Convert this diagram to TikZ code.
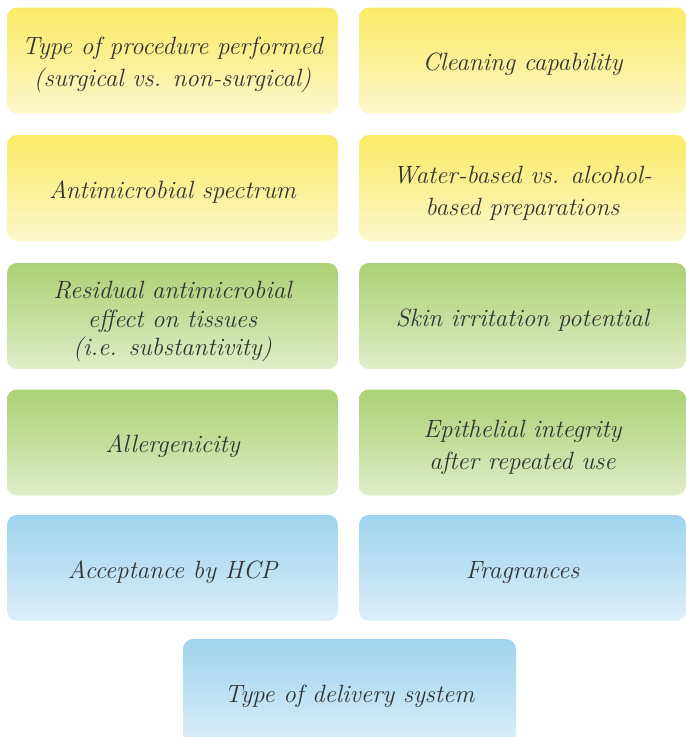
\documentclass[tikz,border=0pt]{standalone}
\usepackage{tikz}
\definecolor{yellowtop}{RGB}{249,235,104}
\definecolor{yellowbot}{RGB}{253,247,205}
\definecolor{greentop}{RGB}{172,210,118}
\definecolor{greenbot}{RGB}{224,237,201}
\definecolor{bluetop}{RGB}{160,212,238}
\definecolor{bluebot}{RGB}{222,239,249}
\definecolor{factortext}{RGB}{51,51,51}

\begin{document}
\begin{tikzpicture}[x=1pt,y=-1pt,
		factor/.style={rounded corners=10pt, minimum height=106pt, align=center,
			inner sep=0pt, text=factortext, font=\fontsize{25}{32}\selectfont\itshape,
			text height=26pt},
		twolines/.style={text height=59pt},
		threelines/.style={text height=86pt},
		yellowbox/.style={factor, top color=yellowtop, bottom color=yellowbot, middle color=yellowtop!55!yellowbot},
		greenbox/.style={factor, top color=greentop, bottom color=greenbot, middle color=greentop!55!greenbot},
		bluebox/.style={factor, top color=bluetop, bottom color=bluebot, middle color=bluetop!55!bluebot}]
	\useasboundingbox (0,0) rectangle (686,737);
	\clip (0,0) rectangle (686,737);
	
	% left column
	\node[yellowbox, twolines, minimum width=331pt] (procedure) at (172.5,60.5) {Type of procedure performed\\(surgical vs. non-surgical)};
	\node[yellowbox, minimum width=331pt] (spectrum) at (172.5,188) {Antimicrobial spectrum};
	\node[greenbox, threelines, minimum width=331pt] (residual) at (172.5,316) {Residual antimicrobial\\[-3.5pt]effect on tissues\\[-3.5pt](i.e. substantivity)};
	\node[greenbox, minimum width=331pt] (allergen) at (172.5,442.5) {Allergenicity};
	\node[bluebox, minimum width=331pt] (acceptance) at (172.5,568) {Acceptance by HCP};
	
	% right column
	\node[yellowbox, minimum width=327pt] (cleaning) at (522.5,60.5) {Cleaning capability};
	\node[yellowbox, twolines, minimum width=327pt] (base) at (522.5,188) {Water-based vs. alcohol-\\based preparations};
	\node[greenbox, minimum width=327pt] (irritation) at (522.5,316) {Skin irritation potential};
	\node[greenbox, twolines, minimum width=327pt] (integrity) at (522.5,442.5) {Epithelial integrity\\after repeated use};
	\node[bluebox, minimum width=327pt] (fragrance) at (522.5,568) {Fragrances};
	
	\node[bluebox, minimum width=333pt] (delivery) at (349.5,692) {Type of delivery system};
\end{tikzpicture}
\end{document}
